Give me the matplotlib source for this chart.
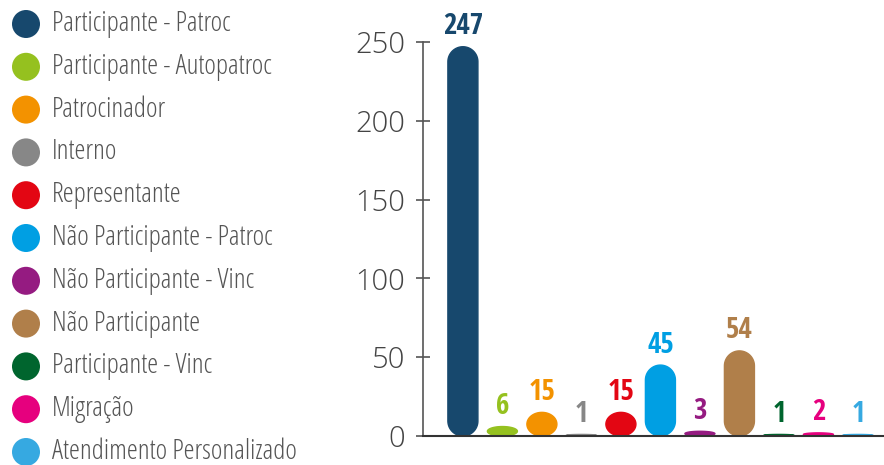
import numpy as np
import matplotlib
matplotlib.use("Agg")
import matplotlib.pyplot as plt
from matplotlib.patches import Polygon, Circle

plt.rcParams['font.family'] = ['Open Sans', 'DejaVu Sans']

categorias = ['Participante - Patroc', 'Participante - Autopatroc', 'Patrocinador',
              'Interno', 'Representante', 'Não Participante - Patroc',
              'Não Participante - Vinc', 'Não Participante', 'Participante - Vinc',
              'Migração', 'Atendimento Personalizado']
valores = [247, 6, 15, 1, 15, 45, 3, 54, 1, 2, 1]
cores = ['#17486d', '#95c11f', '#f39200', '#878787', '#e30613', '#009fe3',
         '#951b81', '#b07f4a', '#00652e', '#e6007e', '#36a9e1']
yticks = [0, 50, 100, 150, 200, 250]

W, H = 884, 465
fig = plt.figure(figsize=(W / 100, H / 100), dpi=100)
ax = fig.add_axes([423 / W, (H - 436) / H, 1 - 423 / W, (436 - 42) / H])

x = np.arange(len(valores))
largura = 0.76
ax.set_xlim(-1.01, 10.66)
ax.set_ylim(0, 250)

# pixels por unidade (para arredondar as barras)
px_x = (ax.transData.transform((1, 0)) - ax.transData.transform((0, 0)))[0]
px_y = (ax.transData.transform((0, 1)) - ax.transData.transform((0, 0)))[1]

t_cima = np.linspace(0, np.pi, 40)
t_baixo = np.linspace(np.pi, 2 * np.pi, 40)
for xi, v, c in zip(x, valores, cores):
    rx = largura / 2
    ry = min(rx * px_x / px_y, v / 2)
    topo = np.column_stack([xi + rx * np.cos(t_cima), v - ry + ry * np.sin(t_cima)])
    base = np.column_stack([xi + rx * np.cos(t_baixo), ry + ry * np.sin(t_baixo)])
    ax.add_patch(Polygon(np.vstack([topo, base]), closed=True, facecolor=c,
                         edgecolor=c, linewidth=1.0))
    ax.annotate(str(v), (xi, v), xytext=(0, 4), textcoords='offset points',
                ha='center', va='bottom', fontsize=21, fontweight='bold',
                family=['Open Sans Condensed', 'Open Sans'], color=c,
                annotation_clip=False)

ax.set_yticks(yticks)
ax.set_xticks([])
ax.tick_params(axis='y', direction='inout', length=10, width=1.2, color='#555555',
               labelsize=21, labelcolor='#444444', pad=8)
for lbl in ax.get_yticklabels():
    lbl.set_fontweight('light')
for s in ['top', 'right']:
    ax.spines[s].set_visible(False)
ax.spines['left'].set_color('#555555')
ax.spines['left'].set_linewidth(1.2)
ax.spines['bottom'].set_color('#333333')
ax.spines['bottom'].set_linewidth(1.5)

# legenda manual
leg = fig.add_axes([0, 0, 1, 1], zorder=-1)
leg.set_xlim(0, W)
leg.set_ylim(H, 0)
leg.axis('off')
for i, (nome, c) in enumerate(zip(categorias, cores)):
    yy = 24 + i * 42.8
    leg.add_patch(Circle((26, yy), 14, facecolor=c, edgecolor='none'))
    leg.text(52, yy, nome, fontsize=20, color='#555555', va='center', ha='left',
             fontstretch='condensed', fontweight='light')

fig.savefig('out.png', dpi=100)
